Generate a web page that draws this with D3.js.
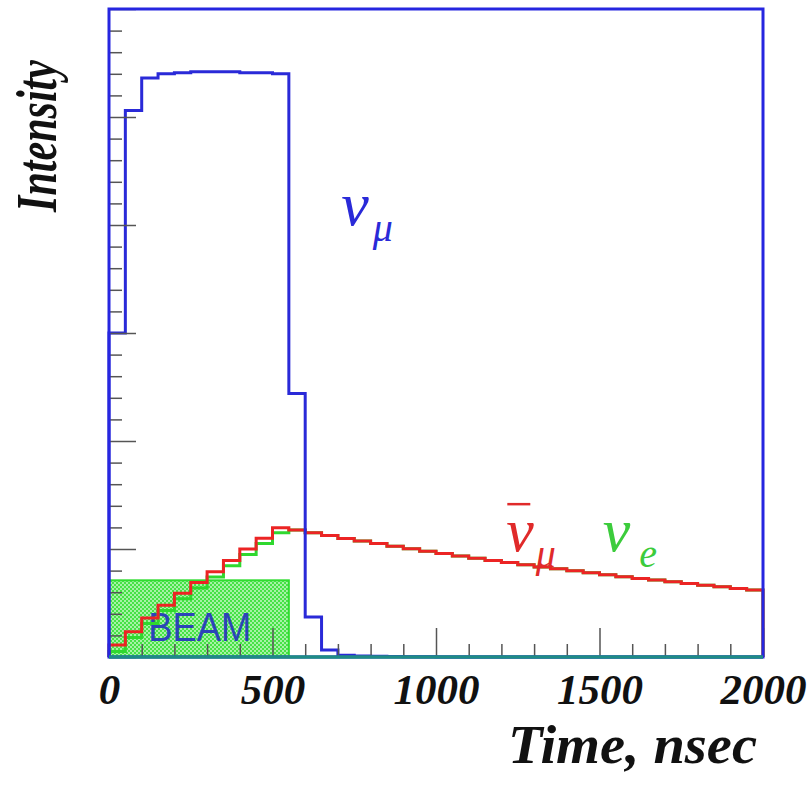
<!DOCTYPE html>
<html>
<head>
<meta charset="utf-8">
<script src="https://cdn.jsdelivr.net/npm/d3@7"></script>
<style>
    body { margin: 0; background: #fff; }
    svg { display: block; }
</style>
</head>
<body>
<div class="chart-container"></div>
<script>
// Histogram bins are 50 ns wide, 0..2000 ns. Intensity in units of the 30 y-axis divisions.
const binWidth = 50;
const xTickValues = [0, 500, 1000, 1500, 2000];

const numuValues = [15.0, 25.3, 26.8, 27.0, 27.05, 27.1, 27.1, 27.1, 27.05, 27.05,
    27.0, 12.2, 1.85, 0.32, 0.08, 0.05, 0.03, 0.02, 0.01, 0.01,
    0, 0, 0, 0, 0, 0, 0, 0, 0, 0,
    0, 0, 0, 0, 0, 0, 0, 0, 0, 0];

const numubarValues = [0.56, 1.17, 1.80, 2.40, 2.95, 3.45, 3.95, 4.47, 5.00, 5.50,
    5.98, 5.88, 5.75, 5.62, 5.49, 5.37, 5.25, 5.13, 5.01, 4.90,
    4.79, 4.68, 4.57, 4.47, 4.37, 4.27, 4.17, 4.08, 3.99, 3.90,
    3.81, 3.72, 3.64, 3.56, 3.48, 3.40, 3.32, 3.25, 3.17, 3.10];

const nueValues = [0.25, 0.90, 1.55, 2.15, 2.70, 3.20, 3.70, 4.22, 4.75, 5.25,
    5.75, 5.88, 5.75, 5.62, 5.49, 5.37, 5.25, 5.13, 5.01, 4.90,
    4.79, 4.68, 4.57, 4.47, 4.37, 4.27, 4.17, 4.08, 3.99, 3.90,
    3.81, 3.72, 3.64, 3.56, 3.48, 3.40, 3.32, 3.25, 3.17, 3.10];

// Beam pulse box: 0..550 ns, height in axis units
const beamStart = 0, beamEnd = 550, beamHeight = 3.55;

let width = 809,
    height = 785,
    margin = {left: 109, right: 46, top: 9, bottom: 128};

let x = d3.scaleLinear().domain([0, 2000]).range([margin.left, width - margin.right]),
    y = d3.scaleLinear().domain([0, 30]).range([height - margin.bottom, margin.top]);

let svg = d3.select("div.chart-container")
    .append("svg")
    .attr("width", width)
    .attr("height", height);

// checker-hatch fill for the beam box
let pat = svg.append("defs").append("pattern")
    .attr("id", "beamHatch")
    .attr("patternUnits", "userSpaceOnUse")
    .attr("width", 4)
    .attr("height", 4);
pat.append("rect").attr("width", 4).attr("height", 4).attr("fill", "#46e246");
pat.append("rect").attr("width", 2).attr("height", 2).attr("fill", "#a6f2a6");
pat.append("rect").attr("x", 2).attr("y", 2).attr("width", 2).attr("height", 2).attr("fill", "#a6f2a6");

svg.append("rect")
    .attr("x", x(beamStart))
    .attr("y", y(beamHeight))
    .attr("width", x(beamEnd) - x(beamStart))
    .attr("height", y(0) - y(beamHeight))
    .attr("fill", "url(#beamHatch)")
    .attr("stroke", "#30dc30")
    .attr("stroke-width", 2);

svg.append("text")
    .attr("x", x(120))
    .attr("y", y(0.75))
    .attr("textLength", 103)
    .attr("lengthAdjust", "spacingAndGlyphs")
    .style("font-family", "'Liberation Sans', Arial, sans-serif")
    .style("font-size", "41px")
    .style("fill", "#2b44b8")
    .text("BEAM");

// Build step outline of a histogram, closed down to zero at both ends
function stepPoints(values) {
    let pts = [[0, 0]];
    values.forEach((v, i) => {
        pts.push([i * binWidth, v]);
        pts.push([(i + 1) * binWidth, v]);
    });
    pts.push([values.length * binWidth, 0]);
    return pts;
}

let line = d3.line().x(d => x(d[0])).y(d => y(d[1]));

let series = [
    {values: nueValues, color: "#2fd82f"},
    {values: numubarValues, color: "#ec2424"},
    {values: numuValues, color: "#2a2ad8"}
];

svg.append("g")
    .selectAll("path")
    .data(series)
    .enter()
    .append("path")
    .attr("d", d => line(stepPoints(d.values)))
    .attr("fill", "none")
    .attr("stroke", d => d.color)
    .attr("stroke-width", 3)
    .attr("stroke-linejoin", "miter");

// x axis: ticks every 100 ns pointing inward, long ones every 500 ns
let xAxis = svg.append("g")
    .attr("transform", `translate(0,${y(0)})`)
    .call(d3.axisBottom(x)
        .tickValues(d3.range(0, 2001, 100))
        .tickSize(-13)
        .tickPadding(16)
        .tickFormat(d => xTickValues.includes(d) ? d : ""));
xAxis.select(".domain").remove();
xAxis.selectAll(".tick line")
    .attr("stroke", "#555")
    .attr("stroke-width", 1.5)
    .attr("y2", d => d % 500 === 0 ? -29 : -13);
xAxis.selectAll(".tick text")
    .style("font-family", "'Liberation Serif', 'Times New Roman', serif")
    .style("font-weight", "bold")
    .style("font-style", "italic")
    .style("font-size", "43px")
    .style("fill", "#111");

// y axis: 30 divisions, long every 5, no labels
let yAxis = svg.append("g")
    .attr("transform", `translate(${x(0)},0)`)
    .call(d3.axisLeft(y)
        .tickValues(d3.range(0, 31, 1))
        .tickSize(-13)
        .tickFormat(""));
yAxis.select(".domain").remove();
yAxis.selectAll(".tick line")
    .attr("stroke", "#555")
    .attr("stroke-width", 1.5)
    .attr("x2", d => d % 5 === 0 ? 27 : 13);

// frame
svg.append("rect")
    .attr("x", x(0))
    .attr("y", y(30))
    .attr("width", x(2000) - x(0))
    .attr("height", y(0) - y(30))
    .attr("fill", "none")
    .attr("stroke", "#2626e0")
    .attr("stroke-width", 3);
svg.append("line")
    .attr("x1", x(0)).attr("x2", x(2000))
    .attr("y1", y(0)).attr("y2", y(0))
    .attr("stroke", "#1f8c84")
    .attr("stroke-width", 3.5);

// axis titles
svg.append("text")
    .attr("x", 757)
    .attr("y", 763)
    .attr("text-anchor", "end")
    .attr("textLength", 249)
    .attr("lengthAdjust", "spacingAndGlyphs")
    .style("font-family", "'Liberation Serif', 'Times New Roman', serif")
    .style("font-weight", "bold")
    .style("font-style", "italic")
    .style("font-size", "55px")
    .style("fill", "#111")
    .text("Time, nsec");

svg.append("text")
    .attr("transform", "translate(56,60) rotate(-90)")
    .attr("text-anchor", "end")
    .attr("textLength", 152)
    .attr("lengthAdjust", "spacingAndGlyphs")
    .style("font-family", "'Liberation Serif', 'Times New Roman', serif")
    .style("font-weight", "bold")
    .style("font-style", "italic")
    .style("font-size", "58px")
    .style("fill", "#111")
    .text("Intensity");

// particle labels
function nuLabel(xv, yv, sub, color, bar, subDx) {
    let t = svg.append("text")
        .attr("x", x(xv))
        .attr("y", y(yv))
        .style("font-family", "'Liberation Serif', 'Times New Roman', serif")
        .style("font-style", "italic")
        .style("font-size", "62px")
        .style("fill", color);
    t.append("tspan").text("\u03bd");
    t.append("tspan")
        .attr("dy", 16)
        .attr("dx", subDx)
        .style("font-size", "40px")
        .text(sub);
    if (bar) {
        svg.append("line")
            .attr("x1", x(xv) + 1).attr("x2", x(xv) + 24)
            .attr("y1", y(yv) - 47).attr("y2", y(yv) - 47)
            .attr("stroke", color)
            .attr("stroke-width", 2.5);
    }
}
nuLabel(710, 20.0, "\u03bc", "#2a2ad8", false, 4);
nuLabel(1215, 4.9, "\u03bc", "#e02a2a", true, 2);
nuLabel(1510, 4.9, "e", "#3ccc3c", false, 9);
</script>
</body>
</html>
